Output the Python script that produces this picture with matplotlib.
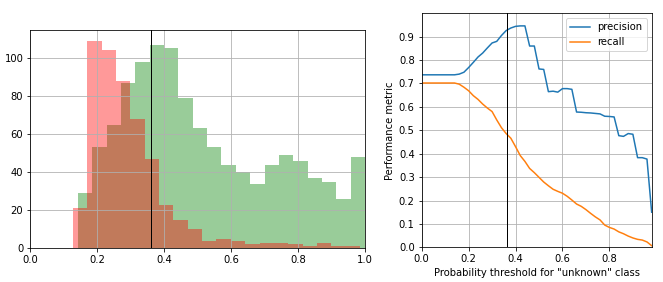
import numpy as np
import matplotlib
matplotlib.use("Agg")
import matplotlib.pyplot as plt

# --- histogram data (counts per bin, 20 equal bins over each range) ---
known_range = (0.1424, 1.0)
known_counts = [29, 53, 65, 87, 98, 107, 105, 79, 63, 53,
                44, 40, 34, 44, 49, 46, 37, 35, 26, 48]

unknown_range = (0.1275, 0.985)
unknown_counts = [21, 109, 104, 88, 68, 47, 23, 15, 10, 4,
                  5, 4, 2, 3, 3, 2, 1, 3, 1, 1]

chosen_threshold = 0.362

# --- performance curves vs threshold ---
thresholds = [0.00, 0.02, 0.04, 0.06, 0.08, 0.10, 0.12, 0.14, 0.16, 0.18,
              0.20, 0.22, 0.24, 0.26, 0.28, 0.30, 0.32, 0.34, 0.36, 0.38,
              0.40, 0.42, 0.44, 0.46, 0.48, 0.50, 0.52, 0.54, 0.56, 0.58,
              0.60, 0.62, 0.64, 0.66, 0.68, 0.70, 0.72, 0.74, 0.76, 0.78,
              0.80, 0.82, 0.84, 0.86, 0.88, 0.90, 0.92, 0.94, 0.96, 0.98]
precision = [0.737, 0.737, 0.737, 0.737, 0.737, 0.737, 0.737, 0.737, 0.740, 0.748,
             0.768, 0.790, 0.813, 0.830, 0.852, 0.873, 0.880, 0.905, 0.926, 0.937,
             0.944, 0.946, 0.946, 0.860, 0.860, 0.762, 0.760, 0.665, 0.667, 0.663,
             0.678, 0.678, 0.675, 0.578, 0.577, 0.575, 0.574, 0.572, 0.570, 0.560,
             0.559, 0.557, 0.477, 0.474, 0.486, 0.483, 0.383, 0.383, 0.377, 0.150]
recall = [0.702, 0.702, 0.702, 0.702, 0.702, 0.702, 0.702, 0.702, 0.697, 0.684,
          0.669, 0.648, 0.632, 0.612, 0.595, 0.580, 0.544, 0.511, 0.486, 0.466,
          0.430, 0.392, 0.367, 0.337, 0.319, 0.299, 0.279, 0.263, 0.248, 0.239,
          0.231, 0.218, 0.202, 0.185, 0.175, 0.161, 0.145, 0.130, 0.117, 0.095,
          0.085, 0.078, 0.066, 0.058, 0.048, 0.040, 0.034, 0.031, 0.023, 0.007]


def hist_from_counts(ax, rng, counts, color):
    edges = np.linspace(rng[0], rng[1], len(counts) + 1)
    centers = (edges[:-1] + edges[1:]) / 2
    ax.hist(centers, bins=edges, weights=counts, color=color, alpha=0.4)


fig = plt.figure(figsize=(663 / 72, 282 / 72), dpi=72)

# left: score distributions
ax1 = fig.add_axes([0.0457, 0.1195, 0.5048, 0.773])
hist_from_counts(ax1, known_range, known_counts, "green")
hist_from_counts(ax1, unknown_range, unknown_counts, "red")
ax1.axvline(chosen_threshold, color="k", lw=1)
ax1.set_xlim(0, 1)
ax1.set_ylim(0, 114.5)
ax1.grid(True)

# right: precision / recall
ax2 = fig.add_axes([0.636, 0.123, 0.3469, 0.830])
ax2.plot(thresholds, precision, label="precision")
ax2.plot(thresholds, recall, label="recall")
ax2.axvline(chosen_threshold, color="k", lw=1)
ax2.set_xlim(0, thresholds[-1])
ax2.set_ylim(0, 1)
ax2.set_yticks(np.arange(0, 1, 0.1))
ax2.set_xticks([0.0, 0.2, 0.4, 0.6, 0.8])
ax2.grid(True)
ax2.legend(loc="upper right")
ax2.set_xlabel('Probability threshold for "unknown" class')
ax2.set_ylabel("Performance metric")

fig.savefig("out.png", dpi=72)
